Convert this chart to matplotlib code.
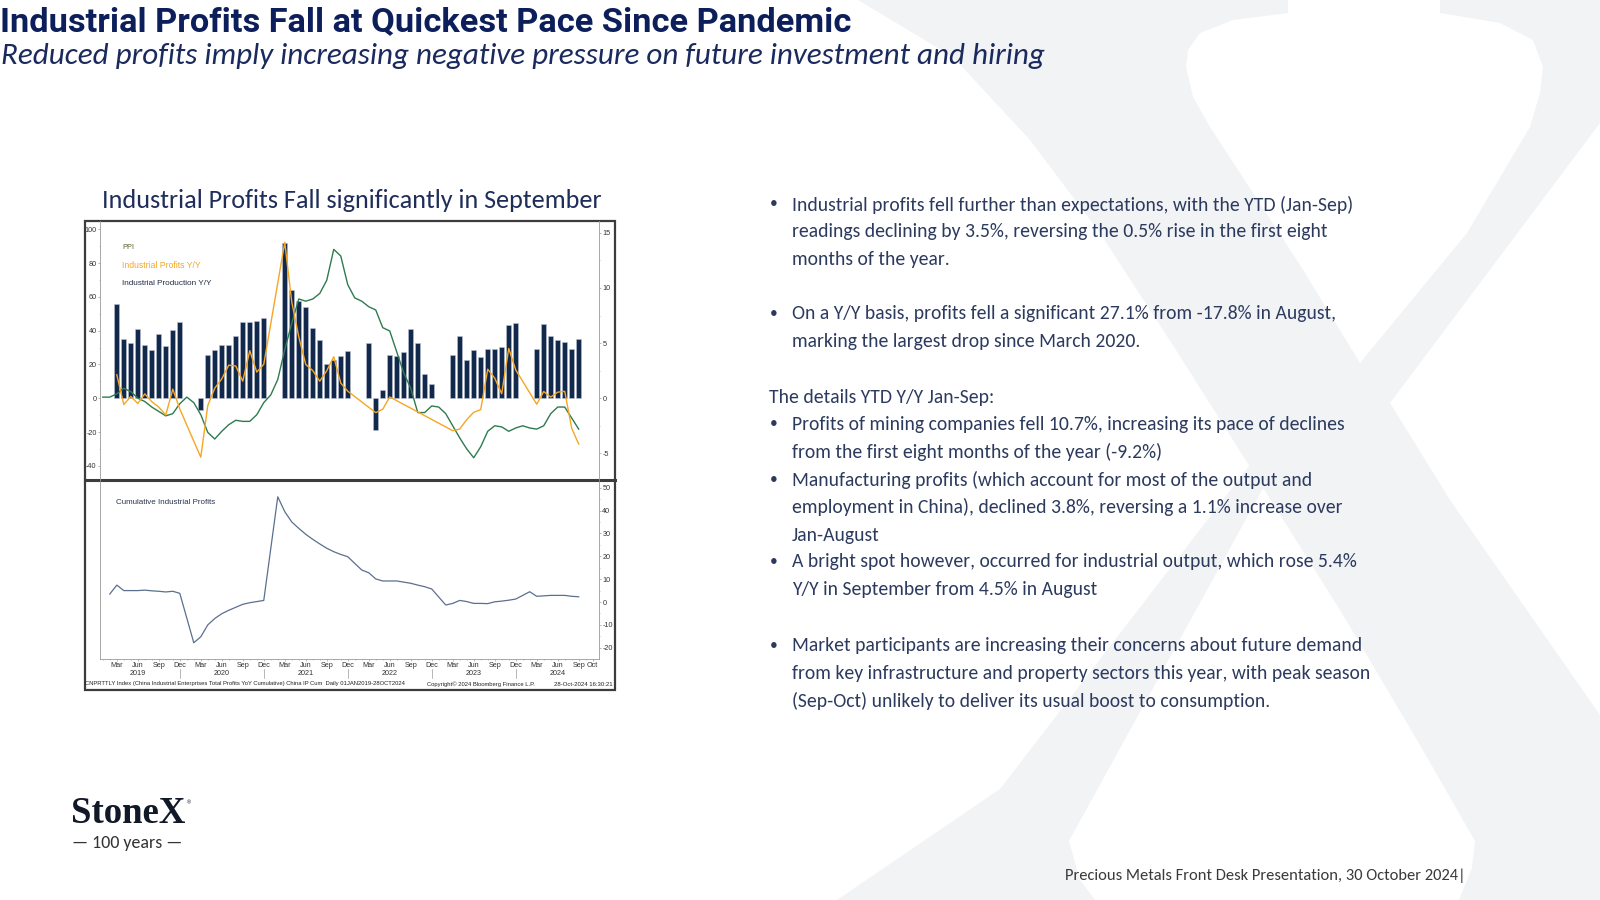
import matplotlib
matplotlib.use("Agg")
import matplotlib.pyplot as plt
import matplotlib.transforms as mtransforms
from matplotlib import font_manager
from matplotlib.patches import Polygon, Rectangle
from matplotlib.ticker import MultipleLocator
import numpy as np

plt.rcParams["axes.unicode_minus"] = False

# monthly data, index 0 = Jan 2019 ... index 68 = Sep 2024 (None = no print)
ip_yoy = [None, None, 8.5, 5.4, 5.0, 6.3, 4.8, 4.4, 5.8, 4.7, 6.2, 6.9,
          None, None, -1.1, 3.9, 4.4, 4.8, 4.8, 5.6, 6.9, 6.9, 7.0, 7.3,
          None, None, 14.1, 9.8, 8.8, 8.3, 6.4, 5.3, 3.1, 3.5, 3.8, 4.3,
          None, None, 5.0, -2.9, 0.7, 3.9, 3.8, 4.2, 6.3, 5.0, 2.2, 1.3,
          None, None, 3.9, 5.6, 3.5, 4.4, 3.7, 4.5, 4.5, 4.6, 6.6, 6.8,
          None, None, 4.5, 6.7, 5.6, 5.3, 5.1, 4.5, 5.4]

ppi_yoy = [0.1, 0.1, 0.4, 0.9, 0.6, 0.0, -0.3, -0.8, -1.2, -1.6, -1.4, -0.5,
           0.1, -0.4, -1.5, -3.1, -3.7, -3.0, -2.4, -2.0, -2.1, -2.1, -1.5, -0.4,
           0.3, 1.7, 4.4, 6.8, 9.0, 8.8, 9.0, 9.5, 10.7, 13.5, 12.9, 10.3,
           9.1, 8.8, 8.3, 8.0, 6.4, 6.1, 4.2, 2.3, 0.9, -1.3, -1.3, -0.7,
           -0.8, -1.4, -2.5, -3.6, -4.6, -5.4, -4.4, -3.0, -2.5, -2.6, -3.0, -2.7,
           -2.5, -2.7, -2.8, -2.5, -1.4, -0.8, -0.8, -1.8, -2.8]

profits_yoy = [None, None, 13.9, -3.7, 1.1, -3.1, 2.6, -2.0, -5.3, -9.9, 5.4, -6.3,
               None, None, -34.9, -4.3, 6.0, 11.5, 19.6, 19.1, 10.1, 28.2, 15.5, 20.1,
               None, None, 92.3, 57.0, 36.4, 20.0, 16.4, 10.1, 16.3, 24.6, 9.0, 4.2,
               None, None, None, -8.5, -6.5, 0.8, None, None, None, None, None, None,
               None, None, -19.2, -18.2, -12.6, -8.3, -6.7, 17.2, 11.9, 2.7, 29.5, 16.8,
               None, None, -3.5, 4.0, 0.7, 3.6, 4.1, -17.8, -27.1]

cum_profits = [None, 3.5, 7.4, 5.0, 5.0, 5.0, 5.2, 4.9, 4.7, 4.4, 4.7, 3.8,
               None, -17.8, -15.2, -10.0, -7.2, -5.1, -3.6, -2.3, -1.0, -0.3, 0.2, 0.7,
               None, 46.0, 39.5, 35.0, 32.2, 29.6, 27.4, 25.4, 23.5, 22.0, 20.8, 19.8,
               None, 14.0, 12.8, 10.1, 9.2, 9.2, 9.2, 8.7, 8.2, 7.4, 6.7, 5.7,
               None, -1.3, -0.6, 0.7, 0.2, -0.6, -0.6, -0.7, 0.1, 0.4, 0.8, 1.3,
               None, 4.5, 2.5, 2.7, 2.9, 2.9, 2.9, 2.5, 2.3]

years = ["2019", "2020", "2021", "2022", "2023", "2024"]
month_labels = ["Mar", "Jun", "Sep", "Dec"]
last_labels = ["Mar", "Jun", "Sep", "Oct"]

body_lines = [
    ("•", "Industrial profits fell further than expectations, with the YTD (Jan-Sep)"),
    ("", "readings declining by 3.5%, reversing the 0.5% rise in the first eight"),
    ("", "months of the year."),
    ("•", "On a Y/Y basis, profits fell a significant 27.1% from -17.8% in August,"),
    ("", "marking the largest drop since March 2020."),
    (None, "The details YTD Y/Y Jan-Sep:"),
    ("•", "Profits of mining companies fell 10.7%, increasing its pace of declines"),
    ("", "from the first eight months of the year (-9.2%)"),
    ("•", "Manufacturing profits (which account for most of the output and"),
    ("", "employment in China), declined 3.8%, reversing a 1.1% increase over"),
    ("", "Jan-August"),
    ("•", "A bright spot however, occurred for industrial output, which rose 5.4%"),
    ("", "Y/Y in September from 4.5% in August"),
    ("•", "Market participants are increasing their concerns about future demand"),
    ("", "from key infrastructure and property sectors this year, with peak season"),
    ("", "(Sep-Oct) unlikely to deliver its usual boost to consumption."),
]
line_y = [204.5, 232, 259, 314, 342, 397, 424.5, 452, 480, 507, 535, 562, 590,
          646, 673.5, 701]

names = {f.name for f in font_manager.fontManager.ttflist}


def pick(*fams):
    for f in fams:
        if f in names:
            return f
    return "DejaVu Sans"


TITLE_FONT = pick("Liberation Sans Narrow", "Roboto")
BODY_FONT = pick("Carlito", "Lato")
SERIF_FONT = pick("Liberation Serif", "DejaVu Serif")
BBG_FONT = pick("Liberation Sans Narrow", "Liberation Sans", "DejaVu Sans")

W, H = 1600, 900
fig = plt.figure(figsize=(16, 9), dpi=100)
fig.patch.set_facecolor("white")
renderer = fig.canvas.get_renderer()


def put(x, y, s, width=None, size=12, **kw):
    # x, y in pixels from the top-left corner
    t = fig.text(x / W, 1 - y / H, s, fontsize=size, **kw)
    if width:
        w = t.get_window_extent(renderer=renderer).width
        t.set_fontsize(size * width / w)
    return t


def px_axes(x0, y0, x1, y1):
    return fig.add_axes([x0 / W, 1 - y1 / H, (x1 - x0) / W, (y1 - y0) / H])


# background: big pale X watermark and the chart frame
bg = fig.add_axes([0, 0, 1, 1])
bg.set_zorder(-1)
bg.set_xlim(0, W)
bg.set_ylim(H, 0)
bg.axis("off")
x_thick = [(858, 0), (1288, 0), (1288, 13), (1233, 20), (1200, 33), (1188, 50), (1186, 67),
           (1193, 97), (1210, 127), (1240, 173), (1300, 265), (1360, 363), (1390, 403),
           (1450, 500), (1600, 715), (1600, 900), (1459, 900), (1472, 868), (1475, 841),
           (1420, 745), (1340, 610), (1250, 467), (1176, 350), (1100, 233), (1030, 140),
           (953, 57)]
x_thin = [(1440, 0), (1600, 0), (1600, 123), (1390, 403), (1262, 490), (1069, 841),
          (1080, 880), (1095, 900), (837, 900), (1000, 789), (1249, 466), (1360, 363),
          (1467, 233), (1530, 127), (1540, 93), (1543, 67), (1533, 40), (1500, 23),
          (1440, 13)]
for pts in (x_thick, x_thin):
    bg.add_patch(Polygon(pts, closed=True, facecolor="#f2f3f5", edgecolor="none"))
bg.add_patch(Rectangle((84.5, 220.5), 530.5, 469.5, facecolor="white",
                       edgecolor="#3c3c3c", lw=1.6))
bg.plot([84.5, 615], [480, 480], color="#3c3c3c", lw=2.2)

months = np.arange(len(ppi_yoy))
ip = np.array([np.nan if v is None else v for v in ip_yoy])
prof = np.array([np.nan if v is None else v for v in profits_yoy])
cum = np.array([np.nan if v is None else v for v in cum_profits])
ppi = np.array(ppi_yoy)

grey = "#9a9a9a"
tick_col = "#333333"
tick_size = 5.2

# ---- upper panel
ax1 = px_axes(100, 220.7, 599, 479.7)
ax2 = ax1.twinx()
ax1.set_zorder(2)
ax2.set_zorder(1)
ax1.patch.set_visible(False)
ax2.patch.set_visible(False)

ok = ~np.isnan(ip)
ax2.bar(months[ok], ip[ok], width=0.68, color="#13294b", edgecolor="#b9c3d3", lw=0.4, zorder=2)
ax2.plot(months, ppi, color="#2e7b4f", lw=1.0, zorder=3)
ok = ~np.isnan(prof)
ax1.plot(months[ok], prof[ok], color="#f6a623", lw=1.0, zorder=3)

ax1.set_xlim(-0.4, 70.9)
ax1.set_ylim(-48.2, 105.1)
ax2.set_ylim(-7.39, 16.1)
ax1.set_yticks(range(-40, 101, 20))
ax1.yaxis.set_minor_locator(MultipleLocator(10))
ax2.set_yticks([-5, 0, 5, 10, 15])
ax2.yaxis.set_minor_locator(MultipleLocator(2.5))
ax1.set_xticks([])
for a in (ax1, ax2):
    for s in a.spines.values():
        s.set_visible(False)
    a.tick_params(axis="y", which="major", labelsize=tick_size, length=1.6, width=0.5,
                  color=grey, labelcolor=tick_col, pad=0.8)
    a.tick_params(axis="y", which="minor", length=1.0, width=0.4, color=grey)
    for lab in a.get_yticklabels():
        lab.set_fontfamily(BBG_FONT)
ax1.spines["left"].set_visible(True)
ax1.spines["left"].set_color(grey)
ax1.spines["left"].set_linewidth(0.6)
ax2.spines["right"].set_visible(True)
ax2.spines["right"].set_color(grey)
ax2.spines["right"].set_linewidth(0.6)

put(122, 247.7, "PPI", width=12, va="center", color="#5f5f2f", family=BBG_FONT)
put(122, 265.3, "Industrial Profits Y/Y", width=78, va="center", color="#f6a623", family=BBG_FONT)
put(122, 283.3, "Industrial Production Y/Y", width=90, va="center", color="#1f2d45",
    family=BBG_FONT)

# ---- lower panel
ax3 = px_axes(100, 481, 599, 659)
ax3.patch.set_visible(False)
ok = ~np.isnan(cum)
ax3.plot(months[ok], cum[ok], color="#5b6f8f", lw=0.9)
ax3.set_xlim(-0.4, 70.9)
ax3.set_ylim(-24.9, 52.9)
ax3.yaxis.tick_right()
ax3.set_yticks(range(-20, 51, 10))
ax3.yaxis.set_minor_locator(MultipleLocator(5))
ax3.spines["top"].set_visible(False)
for side in ("left", "right", "bottom"):
    ax3.spines[side].set_color(grey)
    ax3.spines[side].set_linewidth(0.6)

tick_pos, tick_lab = [], []
for i, yr in enumerate(years):
    last = i == len(years) - 1
    labs = last_labels if last else month_labels
    offs = [2, 5, 8, 10] if last else [2, 5, 8, 11]
    for o, lab in zip(offs, labs):
        tick_pos.append(12 * i + o)
        tick_lab.append(lab)
ax3.set_xticks(tick_pos, tick_lab)
ax3.xaxis.set_minor_locator(MultipleLocator(1))
ax3.tick_params(axis="x", which="major", labelsize=tick_size, length=1.5, width=0.5, color=grey,
                labelcolor=tick_col, pad=0.5)
ax3.tick_params(axis="x", which="minor", length=1, width=0.4, color=grey)
ax3.tick_params(axis="y", which="major", labelsize=tick_size, length=1.6, width=0.5, color=grey,
                labelcolor=tick_col, pad=0.8)
ax3.tick_params(axis="y", which="minor", length=1.0, width=0.4, color=grey)
for lab in ax3.get_xticklabels() + ax3.get_yticklabels():
    lab.set_fontfamily(BBG_FONT)

trans = mtransforms.blended_transform_factory(ax3.transData, ax3.transAxes)
for i, yr in enumerate(years):
    ax3.text(12 * i + 5, -0.082, yr, transform=trans, ha="center", va="center",
             fontsize=tick_size, color=tick_col, family=BBG_FONT)
    if i < len(years) - 1:
        ax3.plot([12 * i + 11] * 2, [-0.055, -0.105], transform=trans, clip_on=False,
                 color=grey, lw=0.5)

put(116, 502.3, "Cumulative Industrial Profits", width=100, va="center", color="#2a3550",
    family=BBG_FONT)
put(85, 684, "CNPRTTLY Index (China Industrial Enterprises Total Profits YoY Cumulative) "
    "China IP Cum  Daily 01JAN2019-28OCT2024", width=323, va="center", color="#222222",
    family=BBG_FONT)
put(427, 684, "Copyright\u00a9 2024 Bloomberg Finance L.P.", width=108, va="center",
    color="#222222", family=BBG_FONT)
t = put(613, 684, "28-Oct-2024 16:30:21", width=59, va="center", color="#222222",
        family=BBG_FONT)
t.set_ha("right")

# ---- slide texts
put(0, 31, "Industrial Profits Fall at Quickest Pace Since Pandemic", width=850,
    va="baseline", color="#0c1f5a", family=TITLE_FONT, weight="bold")
put(1, 56, "Reduced profits imply increasing negative pressure on future investment and hiring",
    width=1042, va="center", color="#1b2a5e", family=BODY_FONT, style="italic", weight="light")
put(102, 200, "Industrial Profits Fall significantly in September", width=498, va="center",
    color="#1f2d5a", family=BODY_FONT, weight="light")

probe = put(0, 0, body_lines[14][1], width=573, family=BODY_FONT)
body_size = probe.get_fontsize()
probe.remove()
body_col = "#2c3a5e"
for (mark, txt), y in zip(body_lines, line_y):
    if mark is None:
        put(769, y, txt, size=body_size, va="center", color=body_col, family=BODY_FONT)
        continue
    if mark:
        put(774, y, mark, size=body_size * 0.8, va="center", ha="center", color=body_col,
            family=BODY_FONT)
    put(792, y, txt, size=body_size, va="center", color=body_col, family=BODY_FONT)

put(1065, 876, "Precious Metals Front Desk Presentation, 30 October 2024|", width=401,
    va="center", color="#3a3a3a", family=BODY_FONT)

# logo
put(71, 823, "StoneX", width=114, va="baseline", color="#111827", family=SERIF_FONT,
    weight="bold")
put(187, 803, "\u00ae", size=4, va="center", color="#111827", family=BBG_FONT)
put(72, 843, "\u2014 100 years \u2014", width=110, va="center", color="#333333",
    family=BODY_FONT, weight="light")

fig.savefig("out.png", dpi=100, facecolor="white")
